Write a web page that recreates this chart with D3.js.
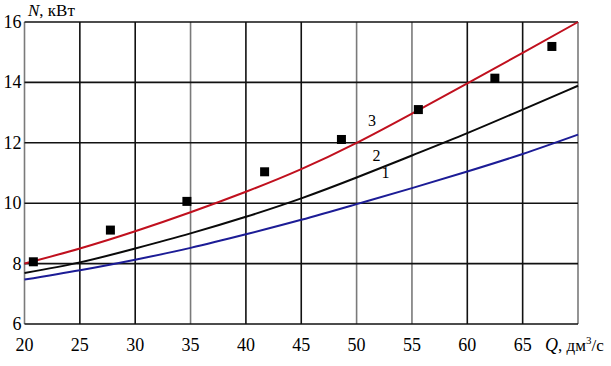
<!DOCTYPE html>
<html>
<head>
<meta charset="utf-8">
<script src="https://cdn.jsdelivr.net/npm/d3@7"></script>
<style>
  body { margin: 0; background: #fff; }
  svg text { font-family: "Liberation Serif", serif; }
</style>
</head>
<body>
<div id="wrapper"></div>
<script>
// data
const qValues = [20, 25, 30, 35, 40, 45, 50, 55, 60, 65, 70]
const curve1 = [7.47, 7.78, 8.13, 8.52, 8.97, 9.45, 9.97, 10.5, 11.05, 11.63, 12.27]
const curve2 = [7.69, 8.04, 8.5, 9.0, 9.55, 10.16, 10.85, 11.58, 12.32, 13.1, 13.89]
const curve3 = [8.0, 8.5, 9.07, 9.7, 10.38, 11.13, 12.0, 12.97, 13.97, 14.98, 16.0]
const measuredQ = [20.8, 27.76, 34.67, 41.69, 48.63, 55.58, 62.49, 67.64]
const measuredN = [8.06, 9.11, 10.06, 11.04, 12.11, 13.1, 14.14, 15.19]
const xTicks = [20, 25, 30, 35, 40, 45, 50, 55, 60, 65]
const yTicks = [6, 8, 10, 12, 14, 16]
const curveLabels = ["1", "2", "3"]

const dimensions = {
  width: 611,
  height: 366,
  margin: { top: 22, right: 33, bottom: 42, left: 24.5 },
}
dimensions.boundedWidth = dimensions.width - dimensions.margin.left - dimensions.margin.right
dimensions.boundedHeight = dimensions.height - dimensions.margin.top - dimensions.margin.bottom

const wrapper = d3.select("#wrapper")
  .append("svg")
  .attr("width", dimensions.width)
  .attr("height", dimensions.height)

const bounds = wrapper.append("g")
  .attr("transform", `translate(${dimensions.margin.left}, ${dimensions.margin.top})`)

const xScale = d3.scaleLinear()
  .domain([20, 70])
  .range([0, dimensions.boundedWidth])

const yScale = d3.scaleLinear()
  .domain([6, 16])
  .range([dimensions.boundedHeight, 0])

// grid: vertical lines alternate grey / black like the original
const greyQ = [20, 35, 50, 55, 70]
bounds.selectAll(".vgrid")
  .data([...xTicks, 70])
  .join("line")
  .attr("class", "vgrid")
  .attr("x1", d => xScale(d))
  .attr("x2", d => xScale(d))
  .attr("y1", 0)
  .attr("y2", dimensions.boundedHeight)
  .attr("stroke", d => greyQ.includes(d) ? "#7a7a7a" : "#111")
  .attr("stroke-width", 1.6)

bounds.selectAll(".hgrid")
  .data(yTicks)
  .join("line")
  .attr("class", "hgrid")
  .attr("x1", 0)
  .attr("x2", dimensions.boundedWidth)
  .attr("y1", d => yScale(d))
  .attr("y2", d => yScale(d))
  .attr("stroke", "#111")
  .attr("stroke-width", 1.6)

// curves
const lineGenerator = d3.line()
  .x(d => xScale(d[0]))
  .y(d => yScale(d[1]))
  .curve(d3.curveNatural)

const series = [
  { values: curve1, color: "#1c1c96" },
  { values: curve2, color: "#0a0a0a" },
  { values: curve3, color: "#c0101e" },
]
series.forEach(s => {
  bounds.append("path")
    .attr("d", lineGenerator(qValues.map((q, i) => [q, s.values[i]])))
    .attr("fill", "none")
    .attr("stroke", s.color)
    .attr("stroke-width", 2)
})

// measured points
const markerSize = 9
bounds.selectAll(".point")
  .data(measuredQ.map((q, i) => [q, measuredN[i]]))
  .join("rect")
  .attr("class", "point")
  .attr("x", d => xScale(d[0]) - markerSize / 2)
  .attr("y", d => yScale(d[1]) - markerSize / 2)
  .attr("width", markerSize)
  .attr("height", markerSize)
  .attr("fill", "#000")

// curve numbers
const labelPos = [[52.6, 10.85], [51.8, 11.4], [51.4, 12.55]]
bounds.selectAll(".curve-label")
  .data(curveLabels)
  .join("text")
  .attr("class", "curve-label")
  .attr("x", (d, i) => xScale(labelPos[i][0]))
  .attr("y", (d, i) => yScale(labelPos[i][1]))
  .attr("text-anchor", "middle")
  .attr("font-family", "DejaVu Serif")
  .style("font-size", "16px")
  .text(d => d)

// tick labels
bounds.selectAll(".x-tick")
  .data(xTicks)
  .join("text")
  .attr("class", "x-tick")
  .attr("x", d => xScale(d))
  .attr("y", dimensions.boundedHeight + 27)
  .attr("text-anchor", "middle")
  .attr("font-family", "Liberation Serif")
  .style("font-size", "18px")
  .text(d => d)

bounds.selectAll(".y-tick")
  .data(yTicks)
  .join("text")
  .attr("class", "y-tick")
  .attr("x", -3)
  .attr("y", d => yScale(d) + 6)
  .attr("text-anchor", "end")
  .style("font-family", "Liberation Serif")
  .style("font-size", "18px")
  .text(d => d)

// axis titles
const yLabel = wrapper.append("text")
  .attr("x", 28)
  .attr("y", 16)
  .style("font-size", "17px")
yLabel.append("tspan").style("font-style", "italic").text("N")
yLabel.append("tspan").text(", кВт")

const xLabel = wrapper.append("text")
  .attr("x", 545)
  .attr("y", dimensions.margin.top + dimensions.boundedHeight + 27)
  .style("font-size", "17px")
xLabel.append("tspan").style("font-style", "italic").style("font-size", "18px").text("Q")
xLabel.append("tspan").text(", дм")
xLabel.append("tspan").attr("dy", -7).style("font-size", "11px").text("3")
xLabel.append("tspan").attr("dy", 7).text("/с")
</script>
</body>
</html>
